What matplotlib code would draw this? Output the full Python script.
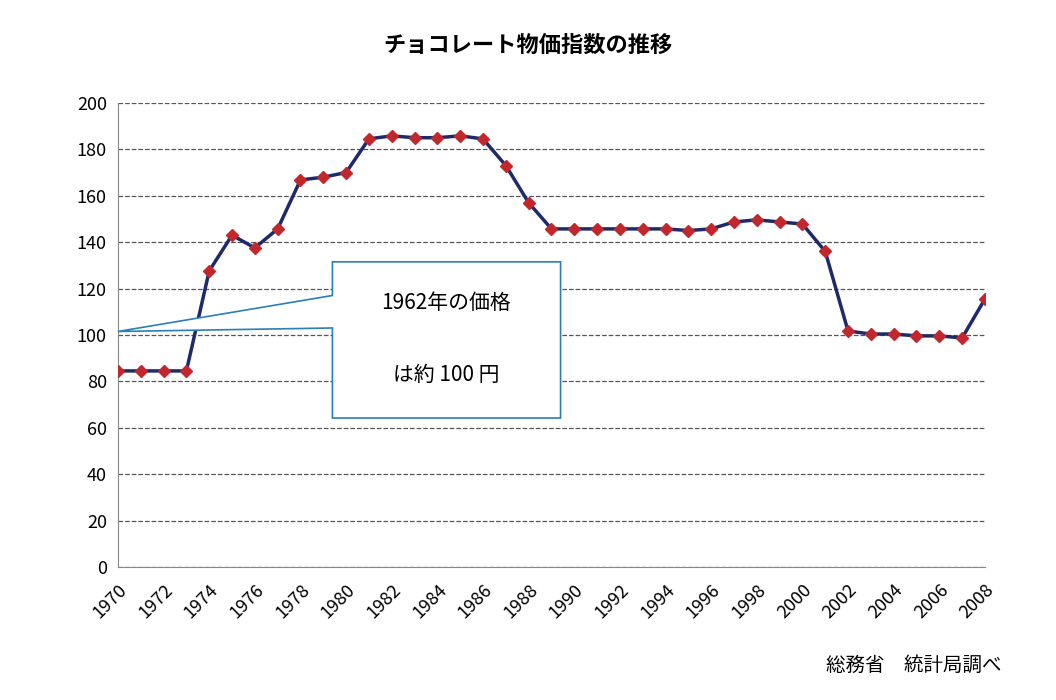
import matplotlib.pyplot as plt
from matplotlib.patches import Polygon

plt.rcParams["font.family"] = "Noto Sans CJK JP"

years = list(range(1970, 2009))
index_values = [84.5, 84.5, 84.5, 84.5, 127.6, 143, 137.5, 145.7, 166.8, 168,
                170, 184.5, 185.8, 185, 185, 185.8, 184.5, 173, 157, 145.7,
                145.7, 145.7, 145.7, 145.7, 145.7, 145, 145.7, 148.7, 149.6, 148.7,
                147.8, 136, 101.7, 100.4, 100.4, 99.6, 99.6, 98.7, 115.5]
tick_years = list(range(1970, 2009, 2))

fig = plt.figure(figsize=(10.56, 7), dpi=100)
ax = fig.add_axes([0.1117, 0.19, 0.821, 0.663])

ax.plot(years, index_values, color="#1f2a6b", lw=2.5, zorder=3,
        marker="D", markersize=6, markerfacecolor="#c0282d", markeredgecolor="#c0282d")

ax.set_xlim(1970, 2008)
ax.set_ylim(0, 200)
ax.set_yticks(range(0, 201, 20))
ax.set_xticks(tick_years)
ax.set_xticklabels([str(y) for y in tick_years], rotation=45, ha="right", rotation_mode="anchor")
ax.tick_params(labelsize=13, length=0)
ax.tick_params(axis="x", pad=10)
ax.tick_params(axis="y", pad=8)
ax.yaxis.grid(True, linestyle="--", color="#555555", lw=0.9)
for s in ["top", "right"]:
    ax.spines[s].set_visible(False)
ax.spines["left"].set_color("#888888")
ax.spines["bottom"].set_color("#888888")

# callout box with pointer
poly = Polygon([(1970, 101.5), (1979.4, 117), (1979.4, 131.5), (1989.4, 131.5),
                (1989.4, 64.2), (1979.4, 64.2), (1979.4, 103), (1970, 101.5)],
               closed=True, facecolor="white", edgecolor="#2a7fb5", lw=1.2,
               clip_on=False, zorder=5)
ax.add_patch(poly)
ax.text(1984.4, 113.8, "1962年の価格", ha="center", va="center", fontsize=15, zorder=6)
ax.text(1984.4, 82.8, "は約 100 円", ha="center", va="center", fontsize=15, zorder=6)

fig.text(0.5, 0.935, "チョコレート物価指数の推移", ha="center", va="center",
         fontsize=16, fontweight="bold")
fig.text(0.948, 0.05, "総務省　統計局調べ", ha="right", va="center", fontsize=14)

fig.savefig("out.png", dpi=100)
